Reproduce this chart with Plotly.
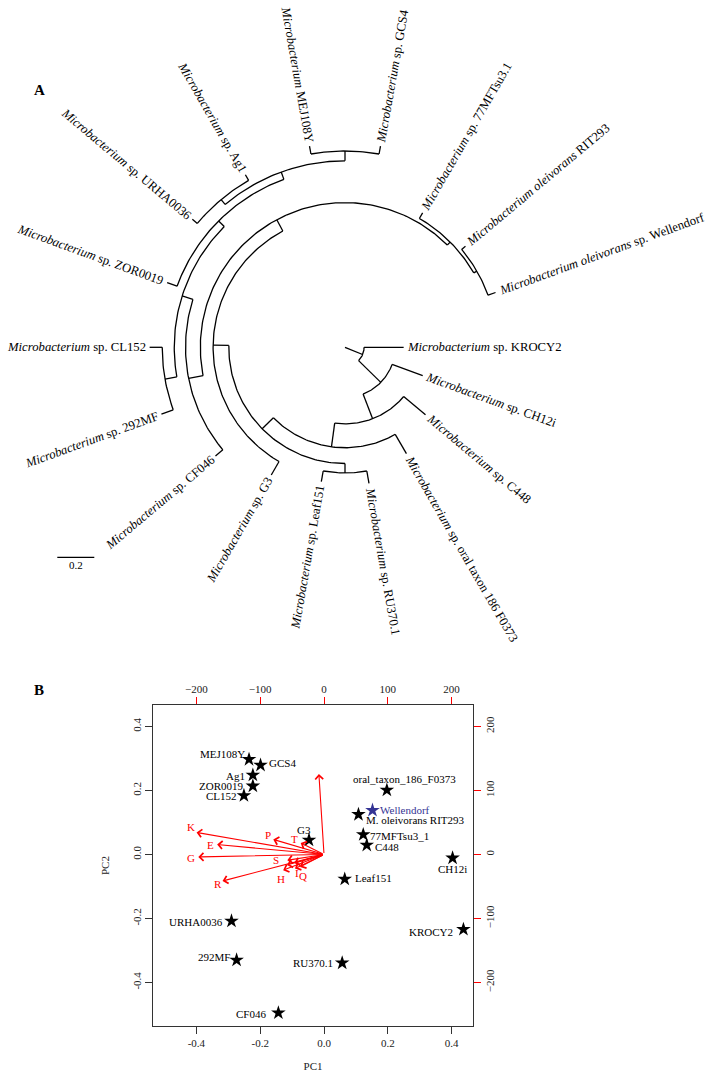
import math
from collections import defaultdict
import plotly.graph_objects as go

# ================= Panel A data: phylogeny =================
tip_order = ["Wellendorf", "RIT293", "77MFTsu3.1", "GCS4", "MEJ108Y", "Ag1",
             "URHA0036", "ZOR0019", "CL152", "292MF", "CF046", "G3",
             "Leaf151", "RU370.1", "F0373", "C448", "CH12i", "KROCY2"]
tip_italic = ["Microbacterium oleivorans", "Microbacterium oleivorans", "Microbacterium",
              "Microbacterium", "Microbacterium", "Microbacterium", "Microbacterium",
              "Microbacterium", "Microbacterium", "Microbacterium", "Microbacterium",
              "Microbacterium", "Microbacterium", "Microbacterium", "Microbacterium",
              "Microbacterium", "Microbacterium", "Microbacterium"]
tip_rest = [" sp. Wellendorf", " RIT293", " sp. 77MFTsu3.1", " sp. GCS4", " MEJ108Y",
            " sp. Ag1", " sp. URHA0036", " sp. ZOR0019", " sp. CL152", " sp. 292MF",
            " sp. CF046", " sp. G3", " sp. Leaf151", " sp. RU370.1",
            " sp. oral taxon 186 F0373", " sp. C448", " sp. CH12i", " sp. KROCY2"]

edge_parent = ["X", "X", "Y", "Y", "Z", "Z", "W", "W", "T", "T", "U", "U", "S", "S",
               "R", "R", "Nd", "Nd", "Nc", "Nc", "Ncl", "Ncl", "Nb", "Nb", "Na", "Na",
               "Nua", "Nua", "Nq", "Nq", "P1", "P1", "P2", "P2"]
edge_child = ["KROCY2", "Y", "CH12i", "Z", "C448", "W", "F0373", "T", "S", "U",
              "Leaf151", "RU370.1", "G3", "R", "Nd", "P1", "Nc", "CF046", "Nb", "Ncl",
              "CL152", "292MF", "ZOR0019", "Na", "Nua", "Nq", "URHA0036", "Ag1",
              "MEJ108Y", "GCS4", "77MFTsu3.1", "P2", "RIT293", "Wellendorf"]
edge_length = [0.214, 0.168, 0.176, 0.143, 0.154, 0.129, 0.121, 0.085, 0.085, 0.051,
               0.058, 0.068, 0.084, 0.069, 0.080, 0.022, 0.061, 0.052, 0.043, 0.065,
               0.068, 0.068, 0.057, 0.042, 0.034, 0.053, 0.035, 0.035,
               0.043, 0.043, 0.035, 0.019, 0.027, 0.043]
root_node = "X"
root_edge_length = 0.103
scale_bar_length = 0.2

# ================= Panel B data: PCA biplot =================
strain_names = ["MEJ108Y", "GCS4", "Ag1", "ZOR0019", "CL152", "G3",
                "oral_taxon_186_F0373", "Wellendorf", "M. oleivorans RIT293",
                "77MFTsu3_1", "C448", "CH12i", "Leaf151", "URHA0036", "KROCY2",
                "292MF", "RU370.1", "CF046"]
pc1 = [-0.235, -0.199, -0.223, -0.223, -0.251, -0.047, 0.197, 0.152, 0.108,
       0.123, 0.134, 0.403, 0.065, -0.290, 0.437, -0.274, 0.057, -0.143]
pc2 = [0.297, 0.279, 0.248, 0.214, 0.184, 0.045, 0.201, 0.138, 0.125,
       0.062, 0.029, -0.011, -0.077, -0.208, -0.234, -0.330, -0.339, -0.495]
var_names = ["K", "E", "G", "R", "P", "T", "S", "H", "I", "Q", "", "", ""]
var_load1 = [-199.7, -167.5, -197.0, -159.0, -79.5, -36.5, -57.5, -64.0, -45.5, -37.5,
             -8.0, -58.0, -46.5]
var_load2 = [34.4, 15.5, -3.8, -41.5, 23.5, 18.0, -9.0, -24.5, -22.0, -19.5,
             125.6, -16.5, -13.5]
pc_ticks = [-0.4, -0.2, 0.0, 0.2, 0.4]
pc_ticktext = ["-0.4", "-0.2", "0.0", "0.2", "0.4"]
load_ticks = [-200, -100, 0, 100, 200]

# ================= layout constants =================
W, H = 716, 1083
PX = 185.0                 # px per tree unit
CX, CY = 345.0, 347.3      # tree centre in px
A_BOTTOM = 650
B_L, B_R, B_T, B_B = 153, 473, 705, 1026
PC_RANGE = [-0.536, 0.467]
LOAD_SCALE = 0.002
SERIF = "Liberation Serif, Times New Roman, serif"
TREE_FONT = 12.7
GAP = 4.0

ROMAN = {' ': 250, '.': 250, '_': 500, 'A': 722, 'C': 667, 'E': 611, 'F': 556, 'G': 722,
         'H': 722, 'I': 333, 'J': 389, 'K': 722, 'L': 611, 'M': 889, 'O': 722, 'R': 667,
         'S': 556, 'T': 611, 'U': 722, 'W': 944, 'Y': 722, 'Z': 611, 'a': 444, 'd': 500,
         'e': 444, 'f': 333, 'g': 500, 'i': 278, 'l': 278, 'n': 500, 'o': 500, 'p': 500,
         'r': 333, 's': 389, 't': 278, 'u': 500, 'x': 500}
ITALIC = {' ': 250, 'M': 833, 'i': 278, 'c': 444, 'r': 389, 'o': 500, 'b': 500, 'a': 500,
          't': 278, 'e': 444, 'u': 500, 'm': 722, 'l': 278, 'v': 444, 'n': 500, 's': 389}


def text_width(ital, rest, size):
    w = sum(ITALIC.get(ch, 500) for ch in ital) + sum(ROMAN.get(ch, 500) for ch in rest)
    return w * size / 1000.0


# ---------- tree geometry ----------
children = defaultdict(list)
blen = {}
for p, c, l in zip(edge_parent, edge_child, edge_length):
    children[p].append(c)
    blen[c] = l
internal_nodes = list(children.keys())

depth = {root_node: root_edge_length}
stack = [root_node]
while stack:
    n = stack.pop()
    for c in children.get(n, []):
        depth[c] = depth[n] + blen[c]
        stack.append(c)

ntip = len(tip_order)
angle = {}
for i, t in enumerate(tip_order):
    angle[t] = 360.0 * (i + 1) / ntip


def node_angle(n):
    if n in angle:
        return angle[n]
    ch = children.get(n, [])
    a = sum(node_angle(c) for c in ch) / len(ch)
    angle[n] = a
    return a


node_angle(root_node)

lx, ly = [], []


def polar(r, a):
    return r * math.cos(math.radians(a)), r * math.sin(math.radians(a))


def add_radial(r0, r1, a):
    x0, y0 = polar(r0, a)
    x1, y1 = polar(r1, a)
    lx.extend([x0, x1, None])
    ly.extend([y0, y1, None])


def add_arc(r, a0, a1):
    n = max(3, int(abs(a1 - a0) / 1.0) + 2)
    for k in range(n):
        a = a0 + (a1 - a0) * k / (n - 1)
        x, y = polar(r, a)
        lx.append(x)
        ly.append(y)
    lx.append(None)
    ly.append(None)


add_radial(0.0, depth[root_node], angle[root_node])
for p, c in zip(edge_parent, edge_child):
    add_radial(depth[p], depth[c], angle[c])
for n in internal_nodes:
    angs = [angle[c] for c in children[n]]
    add_arc(depth[n], min(angs), max(angs))

fig = go.Figure()
fig.add_trace(go.Scatter(x=lx, y=ly, mode="lines", xaxis="x", yaxis="y",
                         line=dict(color="black", width=1.3), hoverinfo="skip",
                         showlegend=False))

annotations = []
for i, t in enumerate(tip_order):
    a = angle[t]
    r = depth[t]
    w = text_width(tip_italic[i], tip_rest[i], TREE_FONT)
    d = r + (GAP + w / 2.0) / PX
    x, y = polar(d, a)
    am = a % 360
    if 90 < am < 270:
        ta = 180 - am
    else:
        ta = -am
    while ta <= -180:
        ta += 360
    while ta > 180:
        ta -= 360
    annotations.append(dict(
        x=x, y=y, xref="x", yref="y", showarrow=False,
        text="<i>%s</i>%s" % (tip_italic[i], tip_rest[i]),
        textangle=ta, xanchor="center", yanchor="middle",
        font=dict(family=SERIF, size=TREE_FONT, color="black")))

# scale bar
sb_x0 = (57.3 - CX) / PX
sb_y = (CY - 557.3) / PX
fig.add_trace(go.Scatter(x=[sb_x0, sb_x0 + scale_bar_length], y=[sb_y, sb_y],
                         mode="lines", xaxis="x", yaxis="y",
                         line=dict(color="black", width=1.3), hoverinfo="skip",
                         showlegend=False))
annotations.append(dict(x=sb_x0 + scale_bar_length / 2, y=sb_y, xref="x", yref="y",
                        yshift=-8, showarrow=False, text=str(scale_bar_length),
                        font=dict(family=SERIF, size=11, color="black")))

# panel letters
annotations.append(dict(x=32 / W, y=1 - 80 / H, xref="paper", yref="paper", showarrow=False,
                        text="<b>A</b>", font=dict(family=SERIF, size=15, color="black")))
annotations.append(dict(x=32 / W, y=1 - 690 / H, xref="paper", yref="paper", showarrow=False,
                        text="<b>B</b>", font=dict(family=SERIF, size=15, color="black")))

# ---------- Panel B ----------
blue = "#343494"
star_colors = [blue if n == "Wellendorf" else "black" for n in strain_names]
fig.add_trace(go.Scatter(x=pc1, y=pc2, mode="markers", xaxis="x2", yaxis="y2",
                         marker=dict(symbol="star", size=11, color=star_colors,
                                     line=dict(width=0)),
                         hoverinfo="skip", showlegend=False))

label_pos = {
    "MEJ108Y": ("right", -2, 5), "GCS4": ("left", 6, 2), "Ag1": ("right", -6, -1),
    "ZOR0019": ("right", -7, 0), "CL152": ("right", -5, 0), "G3": ("center", -5, 10),
    "oral_taxon_186_F0373": ("center", 18, 11), "Wellendorf": ("left", 5, 0),
    "M. oleivorans RIT293": ("left", 6, -6), "77MFTsu3_1": ("left", 5, -1),
    "C448": ("left", 6, -2), "CH12i": ("center", 0, -11), "Leaf151": ("left", 8, 1),
    "URHA0036": ("right", -6, -1), "KROCY2": ("right", -8, -3), "292MF": ("right", -5, 3),
    "RU370.1": ("right", -7, 0), "CF046": ("right", -10, -1)}
for n, x, y, col in zip(strain_names, pc1, pc2, star_colors):
    xa, xs, ys = label_pos[n]
    annotations.append(dict(x=x, y=y, xref="x2", yref="y2", showarrow=False, text=n,
                            xanchor=xa, yanchor="middle", xshift=xs, yshift=ys,
                            font=dict(family=SERIF, size=11, color=col)))

var_offsets = {"K": (-6, 5), "E": (-7, 0), "G": (-7, -1), "R": (-5, -3), "P": (-5, 4),
               "T": (-6, 4), "S": (-11, 0), "H": (-2, -9), "I": (2, -4), "Q": (3, -9)}
for n, vx, vy in zip(var_names, var_load1, var_load2):
    annotations.append(dict(x=vx, y=vy, ax=0, ay=0, xref="x3", yref="y3",
                            axref="x3", ayref="y3", text="", showarrow=True,
                            arrowhead=4, arrowsize=1.4, arrowwidth=1.1,
                            arrowcolor="#FF0000", standoff=0, startstandoff=0))
    if n:
        xs, ys = var_offsets[n]
        annotations.append(dict(x=vx, y=vy, xref="x3", yref="y3", showarrow=False,
                                text=n, xshift=xs, yshift=ys,
                                font=dict(family=SERIF, size=11, color="#FF0000")))

dom_x = [B_L / W, B_R / W]
dom_y = [1 - B_B / H, 1 - B_T / H]
tickfont = dict(family=SERIF, size=11, color="#222222")
fig.update_layout(
    width=W, height=H, margin=dict(l=0, r=0, t=0, b=0),
    paper_bgcolor="white", plot_bgcolor="white", showlegend=False,
    xaxis=dict(domain=[0, 1], range=[-CX / PX, (W - CX) / PX], visible=False,
               fixedrange=True),
    yaxis=dict(domain=[1 - A_BOTTOM / H, 1], range=[(CY - A_BOTTOM) / PX, CY / PX],
               visible=False, fixedrange=True),
    xaxis2=dict(domain=dom_x, anchor="y2", range=PC_RANGE, tickvals=pc_ticks,
                ticktext=pc_ticktext, ticks="outside", ticklen=7, tickcolor="#333333",
                showline=True, mirror=True, linecolor="#333333", linewidth=1.2,
                showgrid=False, zeroline=False, tickfont=tickfont,
                title=dict(text="PC1", font=tickfont, standoff=14)),
    yaxis2=dict(domain=dom_y, anchor="x2", range=PC_RANGE, tickvals=pc_ticks,
                ticktext=pc_ticktext, ticks="outside", ticklen=7, tickcolor="#333333",
                showline=True, mirror=True, linecolor="#333333", linewidth=1.2,
                showgrid=False, zeroline=False, tickfont=tickfont, tickangle=-90,
                title=dict(text="PC2", font=tickfont, standoff=18)),
    xaxis3=dict(overlaying="x2", anchor="y2", side="top",
                range=[PC_RANGE[0] / LOAD_SCALE, PC_RANGE[1] / LOAD_SCALE],
                tickvals=load_ticks, ticks="outside", ticklen=7, tickcolor="#FF0000",
                showline=False, showgrid=False, zeroline=False, tickfont=tickfont),
    yaxis3=dict(overlaying="y2", anchor="x2", side="right",
                range=[PC_RANGE[0] / LOAD_SCALE, PC_RANGE[1] / LOAD_SCALE],
                tickvals=load_ticks, ticks="outside", ticklen=7, tickcolor="#FF0000",
                showline=False, showgrid=False, zeroline=False, tickfont=tickfont,
                tickangle=-90),
    annotations=annotations,
)

fig.write_html("out.html", config={"displayModeBar": False},
               post_script="document.body.style.margin='0px';"
                           "document.body.style.overflow='hidden';")
